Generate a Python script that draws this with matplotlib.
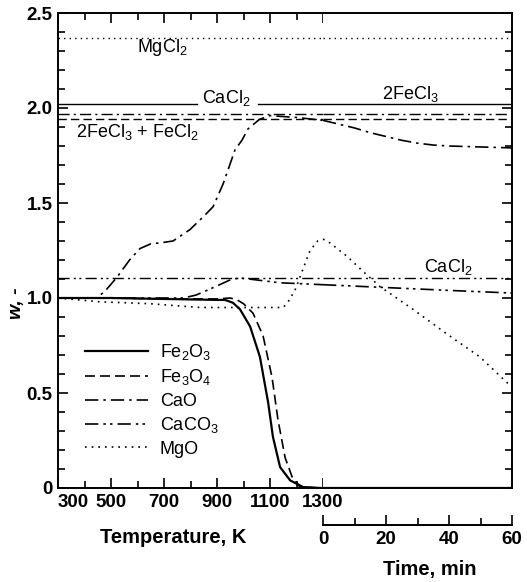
import numpy as np
import matplotlib
matplotlib.use('Agg')
import matplotlib.pyplot as plt
from matplotlib.ticker import MultipleLocator, FixedLocator, FuncFormatter

plt.rcParams['font.family'] = ['Liberation Sans', 'DejaVu Sans']
plt.rcParams['mathtext.default'] = 'regular'

# --- data ---
# heating part (temperature, K)
fe2o3_T = [300, 500, 700, 900, 930, 960, 987, 1025, 1062, 1093, 1111, 1138, 1176, 1225, 1290]
fe2o3_w = [1.0, 1.0, 0.995, 0.99, 0.99, 0.975, 0.94, 0.85, 0.69, 0.45, 0.27, 0.11, 0.04, 0.005, 0.0]

fe3o4_T = [300, 500, 700, 900, 950, 976, 1000, 1036, 1074, 1108, 1130, 1157, 1183, 1213, 1290]
fe3o4_w = [1.0, 1.0, 0.995, 0.995, 1.0, 0.99, 0.97, 0.92, 0.80, 0.58, 0.36, 0.16, 0.06, 0.005, 0.0]

cao_T = [300, 400, 447, 480, 523, 570, 609, 650, 685, 734, 798, 850, 885, 923, 968, 994, 1017, 1060, 1100, 1150, 1202, 1300]
cao_w = [1.0, 1.0, 1.0, 1.04, 1.11, 1.20, 1.26, 1.285, 1.29, 1.30, 1.36, 1.43, 1.48, 1.60, 1.78, 1.83, 1.89, 1.94, 1.96, 1.955, 1.95, 1.935]

caco3_T = [300, 500, 700, 772, 820, 862, 910, 957, 990, 1050, 1138, 1220, 1300]
caco3_w = [1.0, 1.0, 1.0, 1.0, 1.015, 1.04, 1.07, 1.10, 1.105, 1.095, 1.08, 1.075, 1.07]

mgo_T = [300, 458, 647, 836, 1000, 1149, 1164, 1194, 1213, 1251, 1280, 1300]
mgo_w = [1.0, 0.98, 0.97, 0.95, 0.95, 0.95, 0.97, 1.04, 1.11, 1.25, 1.30, 1.31]

# isothermal part (time, min)
fe2o3_t = [0, 60]
fe2o3_tw = [0.0, 0.0]
fe3o4_t = [0, 60]
fe3o4_tw = [0.0, 0.0]
cao_t = [0, 5, 10, 15, 20, 25, 30, 35, 40, 50, 60]
cao_tw = [1.935, 1.915, 1.895, 1.87, 1.85, 1.83, 1.815, 1.805, 1.80, 1.795, 1.79]
caco3_t = [0, 20, 40, 60]
caco3_tw = [1.07, 1.055, 1.04, 1.026]
mgo_t = [0, 2.2, 7.6, 12.7, 18.1, 28.6, 39.4, 49.8, 60]
mgo_tw = [1.31, 1.29, 1.22, 1.14, 1.06, 0.94, 0.81, 0.69, 0.53]

# theoretical chlorination levels
w_mgcl2 = 2.37
w_fecl3 = 2.02
w_cacl2_cao = 1.97
w_fecl3_fecl2 = 1.94
w_cacl2_caco3 = 1.105

styles = {
    'Fe2O3': dict(color='black', lw=1.6, ls='-'),
    'Fe3O4': dict(color='black', lw=1.2, ls=(0, (6, 3))),
    'CaO': dict(color='black', lw=1.2, ls=(0, (8, 3, 1.5, 3))),
    'CaCO3': dict(color='black', lw=1.2, ls=(0, (8, 3, 1.5, 2.5, 1.5, 3))),
    'MgO': dict(color='black', lw=1.2, ls=(0, (1, 3))),
}

W, H = 527, 582
fig = plt.figure(figsize=(W / 100, H / 100), dpi=100)
x0, x1, x2 = 58, 323, 512
yb, yt = 488, 13
ax1 = fig.add_axes([x0 / W, 1 - yb / H, (x1 - x0) / W, (yb - yt) / H])
ax2 = fig.add_axes([x1 / W, 1 - yb / H, (x2 - x1) / W, (yb - yt) / H], sharey=ax1)

# curves
ax1.plot(fe2o3_T, fe2o3_w, label=r'Fe$_2$O$_3$', **styles['Fe2O3'])
ax1.plot(fe3o4_T, fe3o4_w, label=r'Fe$_3$O$_4$', **styles['Fe3O4'])
ax1.plot(cao_T, cao_w, label='CaO', **styles['CaO'])
ax1.plot(caco3_T, caco3_w, label=r'CaCO$_3$', **styles['CaCO3'])
ax1.plot(mgo_T, mgo_w, label='MgO', **styles['MgO'])

ax2.plot(fe2o3_t, fe2o3_tw, **styles['Fe2O3'])
ax2.plot(fe3o4_t, fe3o4_tw, **styles['Fe3O4'])
ax2.plot(cao_t, cao_tw, **styles['CaO'])
ax2.plot(caco3_t, caco3_tw, **styles['CaCO3'])
ax2.plot(mgo_t, mgo_tw, **styles['MgO'])

# reference levels
for ax, lo, hi in [(ax1, 300, 1300), (ax2, 0, 60)]:
    ax.plot([lo, hi], [w_mgcl2, w_mgcl2], color='black', lw=1.0, ls=(0, (1, 3)))
    ax.plot([lo, hi], [w_cacl2_cao, w_cacl2_cao], color='black', lw=1.0, ls=(0, (8, 3, 1.5, 3)))
    ax.plot([lo, hi], [w_fecl3_fecl2, w_fecl3_fecl2], color='black', lw=1.0, ls=(0, (6, 3)))
    ax.plot([lo, hi], [w_cacl2_caco3, w_cacl2_caco3], color='black', lw=1.0,
            ls=(0, (8, 3, 1.5, 2.5, 1.5, 3)))
ax1.plot([300, 825], [w_fecl3, w_fecl3], color='black', lw=1.0)
ax1.plot([1055, 1300], [w_fecl3, w_fecl3], color='black', lw=1.0)
ax2.plot([0, 60], [w_fecl3, w_fecl3], color='black', lw=1.0)

# annotations
ax1.text(692, 2.32, r'MgCl$_2$', ha='center', va='center', fontsize=13)
ax1.text(934, 2.025, r'CaCl$_2$', ha='center', va='baseline', fontsize=13)
ax2.text(27.6, 2.045, r'2FeCl$_3$', ha='center', va='baseline', fontsize=13)
ax1.text(598, 1.875, r'2FeCl$_3$ + FeCl$_2$', ha='center', va='center', fontsize=13)
ax2.text(39.7, 1.137, r'CaCl$_2$', ha='center', va='baseline', fontsize=13)

# axes
ax1.set_xlim(300, 1300)
ax2.set_xlim(0, 60)
ax1.set_ylim(0, 2.5)

ax1.spines['right'].set_visible(False)
ax2.spines['left'].set_visible(False)
for ax in (ax1, ax2):
    for s in ax.spines.values():
        s.set_linewidth(1.4)

ax1.xaxis.set_major_locator(FixedLocator([300, 500, 700, 900, 1100, 1300]))
ax1.xaxis.set_minor_locator(FixedLocator([400, 600, 800, 1000, 1200]))
ax1.yaxis.set_major_locator(MultipleLocator(0.5))
ax1.yaxis.set_minor_locator(MultipleLocator(0.1))
ax1.yaxis.set_major_formatter(FuncFormatter(lambda v, p: '0' if abs(v) < 1e-9 else f'{v:.1f}'))
ax1.tick_params(which='both', direction='in', top=True, right=False, width=1.2)
ax1.tick_params(which='major', length=7, labelsize=13.5, pad=4)
ax1.tick_params(which='minor', length=5)

ax2.tick_params(which='both', direction='in', left=False, labelleft=False,
                bottom=False, labelbottom=False, top=False, right=True, width=1.2)
ax2.tick_params(which='major', length=7)
ax2.tick_params(which='minor', length=5)

ax1.set_xlabel('Temperature, K', fontsize=14.5, fontweight='bold')
ax1.xaxis.set_label_coords((173 - x0) / (x1 - x0), -0.085)
ax1.set_ylabel('w, -', fontsize=14, fontweight='bold', style='italic')
ax1.yaxis.set_label_coords(-0.125, 0.39)

sec = ax2.secondary_xaxis(-0.078)
sec.set_xticks([0, 20, 40, 60])
sec.xaxis.set_minor_locator(FixedLocator([10, 30, 50]))
sec.spines['bottom'].set_linewidth(1.4)
sec.tick_params(which='both', direction='in', width=1.2, labelsize=13.5, pad=4)
sec.tick_params(which='major', length=7)
sec.tick_params(which='minor', length=5)
fig.text(430 / W, 1 - 570 / H, 'Time, min', ha='center', va='center',
         fontsize=14.5, fontweight='bold')

fig.canvas.draw()
for lab in ax1.get_xticklabels() + ax1.get_yticklabels() + sec.get_xticklabels():
    lab.set_fontweight('bold')
ax1.get_xticklabels()[0].set_horizontalalignment('left')

leg = ax1.legend(loc='upper left', bbox_to_anchor=((85 - x0) / (x1 - x0), (yb - 342) / (yb - yt)),
                 frameon=False, fontsize=13, handlelength=3.5, handletextpad=0.65,
                 labelspacing=0.3, borderpad=0, borderaxespad=0)

fig.savefig('out.png', dpi=100)
